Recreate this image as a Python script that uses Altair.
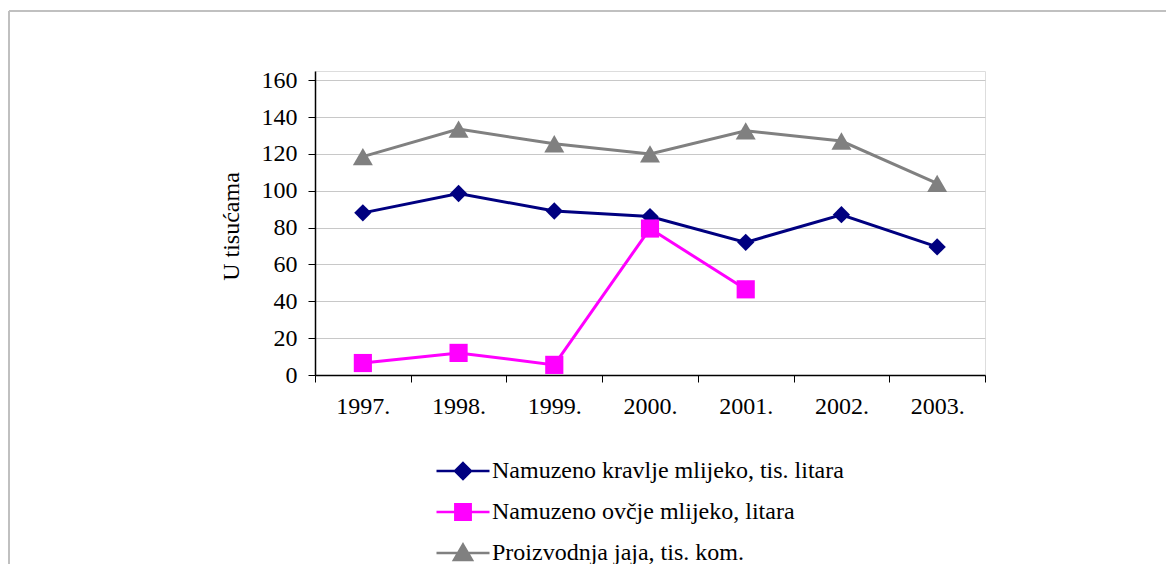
import altair as alt
import pandas as pd

years = ["1997.", "1998.", "1999.", "2000.", "2001.", "2002.", "2003."]
cow_milk = [88, 98.5, 89, 86, 72, 87, 69.5]
sheep_milk = [6.5, 12, 5.5, 79.5, 46.5, None, None]
eggs = [118.5, 133.5, 125.5, 120, 132.5, 127, 104]

series_names = [
    "Namuzeno kravlje mlijeko, tis. litara",
    "Namuzeno ovčje mlijeko, litara",
    "Proizvodnja jaja, tis. kom.",
]
series_colors = ["#000080", "#FF00FF", "#808080"]
series_shapes = ["diamond", "square", "triangle-up"]
series_sizes = [300, 330, 400]
legend_paths = [
    "M -1 0 L 1 0 M 0 -0.3 L 0.3 0 L 0 0.3 L -0.3 0 Z",
    "M -1 0 L 1 0 M -0.29 -0.29 L 0.29 -0.29 L 0.29 0.29 L -0.29 0.29 Z",
    "M -1 0 L 1 0 M 0 -0.32 L 0.34 0.26 L -0.34 0.26 Z",
]

rows = []
for name, vals in zip(series_names, [cow_milk, sheep_milk, eggs]):
    for y, v in zip(years, vals):
        if v is not None:
            rows.append({"Godina": y, "Serija": name, "Vrijednost": v})
df = pd.DataFrame(rows)
legend_df = pd.DataFrame({"Serija": series_names})

FONT = "Liberation Serif"

legend = alt.Legend(
    title=None,
    orient="none",
    legendX=120,
    legendY=372,
    labelFont=FONT,
    labelFontSize=24,
    labelColor="black",
    labelLimit=1000,
    labelOffset=1,
    symbolSize=2809,
    symbolStrokeWidth=2.5,
    rowPadding=-3,
)

x_enc = alt.X(
    "Godina:N",
    sort=years,
    title=None,
    scale=alt.Scale(domain=years, paddingInner=0, paddingOuter=0),
    axis=alt.Axis(
        labelAngle=0,
        labelFont=FONT,
        labelFontSize=24,
        labelColor="black",
        labelPadding=12,
        tickBand="extent",
        tickSize=7,
        tickColor="black",
        domainColor="black",
        domainWidth=1.5,
        grid=False,
    ),
)
y_enc = alt.Y(
    "Vrijednost:Q",
    title="U tisućama",
    scale=alt.Scale(domain=[0, 165], nice=False, zero=True),
    axis=alt.Axis(
        values=[0, 20, 40, 60, 80, 100, 120, 140, 160],
        labelFont=FONT,
        labelFontSize=24,
        labelColor="black",
        labelPadding=11,
        tickSize=7,
        tickColor="black",
        domainColor="black",
        domainWidth=1.5,
        gridColor="#c8c8c8",
        gridWidth=1,
        titleFont=FONT,
        titleFontSize=24,
        titleFontWeight="normal",
        titleColor="black",
        titleX=-77,
        titleY=155,
        titleBaseline="alphabetic",
        titleAngle=270,
    ),
)
color_enc = alt.Color(
    "Serija:N",
    scale=alt.Scale(domain=series_names, range=series_colors),
    legend=None,
)

lines = alt.Chart(df).mark_line(strokeWidth=3).encode(
    x=x_enc, y=y_enc, color=color_enc, detail="Serija:N"
)

point_layers = []
for name, shp, sz in zip(series_names, series_shapes, series_sizes):
    point_layers.append(
        alt.Chart(df)
        .transform_filter(alt.datum.Serija == name)
        .mark_point(filled=True, opacity=1, size=sz, shape=shp)
        .encode(x=x_enc, y=y_enc, color=color_enc)
    )

legend_layer = (
    alt.Chart(legend_df)
    .mark_point(filled=True, opacity=1)
    .encode(
        fill=alt.Fill(
            "Serija:N",
            scale=alt.Scale(domain=series_names, range=series_colors),
            legend=legend,
        ),
        stroke=alt.Stroke(
            "Serija:N",
            scale=alt.Scale(domain=series_names, range=series_colors),
            legend=legend,
        ),
        shape=alt.Shape(
            "Serija:N",
            scale=alt.Scale(domain=series_names, range=legend_paths),
            legend=legend,
        ),
    )
    .transform_filter("datum.Serija == 'none'")
)

frame_top = alt.Chart(legend_df).mark_rule(color="#c0c0c0", strokeWidth=2).encode(
    x=alt.value(-306), x2=alt.value(860), y=alt.value(-60)
)
frame_left = alt.Chart(legend_df).mark_rule(color="#c0c0c0", strokeWidth=2).encode(
    x=alt.value(-306), x2=alt.value(-306), y=alt.value(-60), y2=alt.value(500)
)

chart = (
    alt.layer(legend_layer, frame_top, frame_left, lines, *point_layers)
    .properties(
        width=670,
        height=304,
        autosize=alt.AutoSizeParams(type="none"),
        padding={"left": 307, "top": 63, "right": 181, "bottom": 189},
    )
    .configure_view(stroke="#404040", strokeWidth=1)
    .configure(background="white")
)

chart.save("out.html", embed_options={"renderer": "svg", "actions": False})
